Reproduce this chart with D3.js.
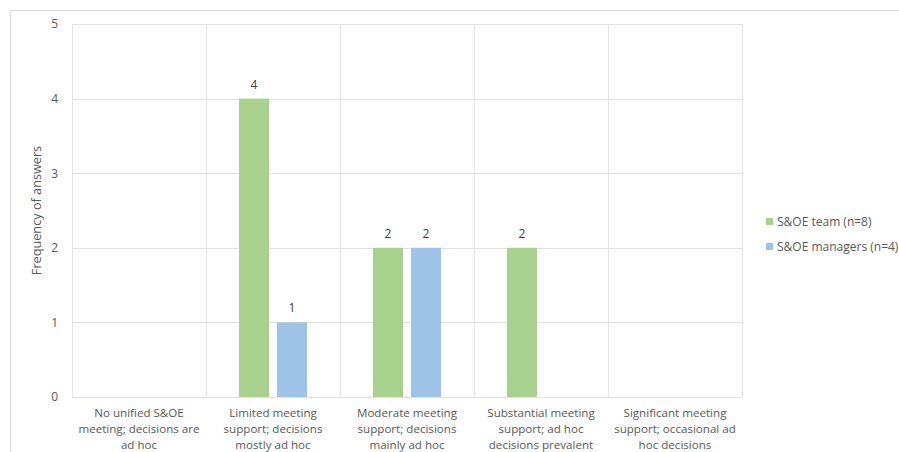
<!DOCTYPE html>
<html>
<head>
<meta charset="utf-8">
<script src="https://cdn.jsdelivr.net/npm/d3@7"></script>
<style>
  html, body { margin: 0; padding: 0; background: #fff; }
  svg { display: block; font-family: "Open Sans", sans-serif; }
</style>
</head>
<body>
<svg id="chart" width="899" height="452"></svg>
<script>
// Categories (each label split into its wrapped lines)
const categories = [
  ["No unified S&OE", "meeting; decisions are", "ad hoc"],
  ["Limited meeting", "support; decisions", "mostly ad hoc"],
  ["Moderate meeting", "support; decisions", "mainly ad hoc"],
  ["Substantial meeting", "support; ad hoc", "decisions prevalent"],
  ["Significant meeting", "support; occasional ad", "hoc decisions"]
];
const seriesNames = ["S&OE team (n=8)", "S&OE managers (n=4)"];
const teamValues = [0, 4, 2, 2, 0];
const managerValues = [0, 1, 2, 0, 0];
const yTicks = [0, 1, 2, 3, 4, 5];
const colors = ["#A9D18E", "#9DC3E6"];

const svg = d3.select("#chart");
const margin = { left: 72, top: 24, right: 157, bottom: 55 };
const W = 899, H = 452;
const plotW = W - margin.left - margin.right;
const plotH = H - margin.top - margin.bottom;

// Outer chart frame
svg.append("rect")
  .attr("x", 10.5).attr("y", 10.5)
  .attr("width", 900).attr("height", 460)
  .attr("fill", "none").attr("stroke", "#d9d9d9").attr("stroke-width", 1);

const g = svg.append("g").attr("transform", `translate(${margin.left},${margin.top})`);

const x0 = d3.scaleBand().domain(d3.range(categories.length)).range([0, plotW]).padding(0);
const x1 = d3.scaleBand().domain([0, 1]).range([33, x0.bandwidth() - 33]).paddingInner(0.21);
const y = d3.scaleLinear().domain([0, 5]).range([plotH, 0]);

// Horizontal gridlines
g.append("g").selectAll("line").data(yTicks).join("line")
  .attr("x1", 0).attr("x2", plotW)
  .attr("y1", d => Math.round(y(d)) + 0.5).attr("y2", d => Math.round(y(d)) + 0.5)
  .attr("stroke", "#e3e3e3").attr("stroke-width", 1);

// Vertical category separators
g.append("g").selectAll("line").data(d3.range(categories.length + 1)).join("line")
  .attr("x1", d => Math.round(d * x0.bandwidth()) + 0.5)
  .attr("x2", d => Math.round(d * x0.bandwidth()) + 0.5)
  .attr("y1", 0).attr("y2", plotH)
  .attr("stroke", "#e3e3e3").attr("stroke-width", 1);

// Y axis tick labels
const yAxis = d3.axisLeft(y).tickValues(yTicks).tickSize(0).tickPadding(14).tickFormat(d3.format("d"));
const ya = g.append("g").call(yAxis);
ya.select(".domain").remove();
ya.selectAll("text").attr("font-size", 12).attr("fill", "#595959").attr("font-family", "Open Sans");

// Y axis title
svg.append("text")
  .attr("transform", `translate(41,${margin.top + plotH / 2}) rotate(-90)`)
  .attr("text-anchor", "middle")
  .attr("font-size", 12.7).attr("fill", "#595959")
  .text("Frequency of answers");

// Bars
const series = [teamValues, managerValues];
series.forEach((vals, si) => {
  const bars = g.append("g");
  vals.forEach((v, ci) => {
    if (v <= 0) return;
    const bx = x0(ci) + x1(si);
    bars.append("rect")
      .attr("x", bx).attr("width", x1.bandwidth())
      .attr("y", y(v)).attr("height", y(0) - y(v))
      .attr("fill", colors[si]);
    bars.append("text")
      .attr("x", bx + x1.bandwidth() / 2).attr("y", y(v) - 10)
      .attr("text-anchor", "middle")
      .attr("font-size", 12).attr("fill", "#404040")
      .text(v);
  });
});

// Category labels, one text element per wrapped line
const xl = g.append("g").attr("transform", `translate(0,${plotH})`);
categories.forEach((lines, ci) => {
  lines.forEach((ln, li) => {
    xl.append("text")
      .attr("x", x0(ci) + x0.bandwidth() / 2)
      .attr("y", 20 + li * 16)
      .attr("text-anchor", "middle")
      .attr("font-size", 11.6).attr("fill", "#595959")
      .text(ln);
  });
});

// Legend
const legend = svg.append("g").attr("transform", "translate(766,222)");
seriesNames.forEach((name, i) => {
  const row = legend.append("g").attr("transform", `translate(0,${i * 25})`);
  row.append("rect").attr("x", 0).attr("y", -4).attr("width", 7).attr("height", 7).attr("fill", colors[i]);
  row.append("text").attr("x", 11).attr("y", 4).attr("font-size", 12).attr("fill", "#595959").text(name);
});
</script>
</body>
</html>
